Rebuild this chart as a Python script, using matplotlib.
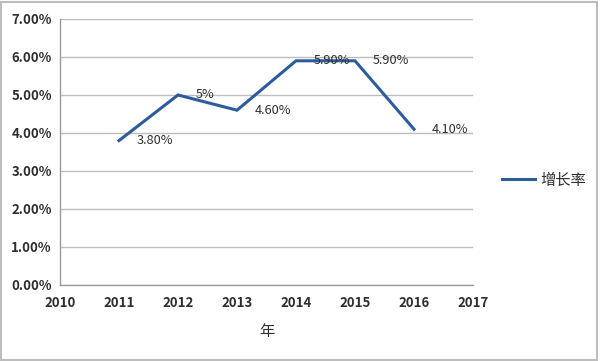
import matplotlib
matplotlib.use("Agg")
import matplotlib.pyplot as plt
from matplotlib.patches import Rectangle
from matplotlib.ticker import FuncFormatter

plt.rcParams["font.family"] = ["Noto Sans CJK SC", "DejaVu Sans"]

years = [2011, 2012, 2013, 2014, 2015, 2016]
rates = [3.8, 5.0, 4.6, 5.9, 5.9, 4.1]
point_labels = ["3.80%", "5%", "4.60%", "5.90%", "5.90%", "4.10%"]
series_name = "增长率"
x_title = "年"

line_color = "#2C5C9C"
text_color = "#2E2E2E"
grid_color = "#BDBDBD"

fig = plt.figure(figsize=(6.0, 3.61), dpi=100)
ax = fig.add_axes([60 / 600, 1 - 285 / 361, (473 - 60) / 600, (285 - 19) / 361])

ax.plot(years, rates, color=line_color, linewidth=2.2, label=series_name,
        solid_joinstyle="miter")
for x, y, lab in zip(years, rates, point_labels):
    ax.annotate(lab, (x, y), xytext=(13, 0), textcoords="offset points",
                ha="left", va="center", fontsize=9.2, color=text_color)

ax.set_xlim(2010, 2017)
ax.set_ylim(0, 7)
ax.set_xticks(range(2010, 2018))
ax.set_yticks(range(0, 8))
ax.yaxis.set_major_formatter(FuncFormatter(lambda v, p: f"{v:.2f}%"))
ax.tick_params(length=0, labelsize=9.5, colors=text_color, pad=6)
ax.tick_params(axis="x", pad=8)
for lab in ax.get_xticklabels() + ax.get_yticklabels():
    lab.set_fontweight("bold")
ax.grid(axis="y", color=grid_color, linewidth=1)
ax.set_axisbelow(True)
for side in ["top", "right"]:
    ax.spines[side].set_visible(False)
for side in ["left", "bottom"]:
    ax.spines[side].set_color("#9A9A9A")
    ax.spines[side].set_linewidth(1)

ax.set_xlabel(x_title, fontsize=11, color=text_color, labelpad=9)

fig.legend(loc="center left", bbox_to_anchor=(488 / 600, 1 - 180 / 361),
           frameon=False, fontsize=11, handlelength=2.2, handletextpad=0.3,
           labelcolor=text_color)

fig.patches.append(Rectangle((0.002, 0.003), 0.993, 0.992, transform=fig.transFigure,
                             fill=False, edgecolor="#BDBDBD", linewidth=1.5))

fig.savefig("out.png", dpi=100)
